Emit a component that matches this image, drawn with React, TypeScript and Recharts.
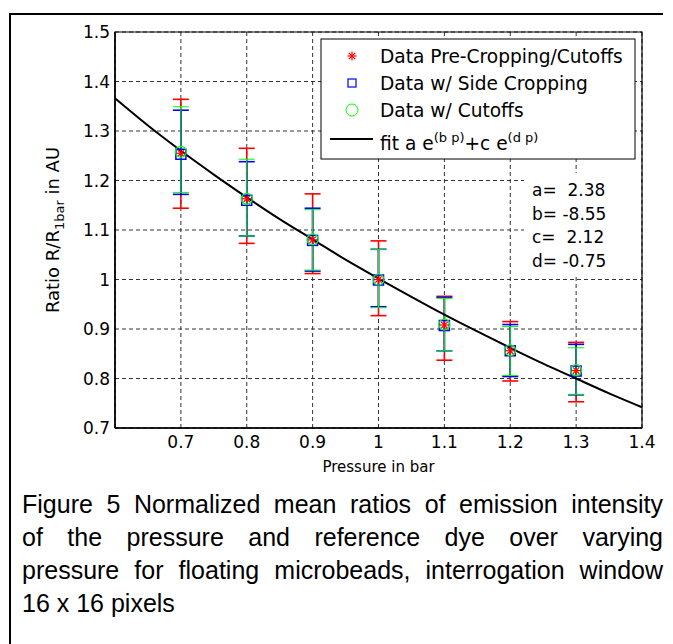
import React from "react";
import {
  ComposedChart,
  Scatter,
  Line,
  XAxis,
  YAxis,
  CartesianGrid,
  ErrorBar,
  ReferenceArea,
  Label,
} from "recharts";

// pressure in bar
const pressures = [0.7, 0.8, 0.9, 1.0, 1.1, 1.2, 1.3];

// Data Pre-Cropping/Cutoffs (mean, lower and upper bar end)
const preMean = [1.255, 1.163, 1.08, 1.0, 0.908, 0.856, 0.816];
const preLow = [1.144, 1.073, 1.012, 0.927, 0.837, 0.795, 0.753];
const preHigh = [1.364, 1.265, 1.173, 1.078, 0.966, 0.915, 0.873];

// Data w/ Side Cropping
const sideMean = [1.253, 1.16, 1.079, 0.999, 0.907, 0.856, 0.815];
const sideLow = [1.172, 1.088, 1.017, 0.945, 0.856, 0.804, 0.767];
const sideHigh = [1.342, 1.238, 1.144, 1.061, 0.964, 0.909, 0.869];

// Data w/ Cutoffs
const cutMean = [1.258, 1.163, 1.081, 1.0, 0.909, 0.857, 0.817];
const cutLow = [1.176, 1.088, 1.019, 0.943, 0.856, 0.806, 0.768];
const cutHigh = [1.349, 1.243, 1.141, 1.061, 0.962, 0.905, 0.862];

// fitted curve
const fitP = [0.6, 0.65, 0.7, 0.75, 0.8, 0.85, 0.9, 0.95, 1.0, 1.05, 1.1, 1.15, 1.2, 1.25, 1.3, 1.35, 1.4];
const fitRatio = [1.366, 1.311, 1.26, 1.212, 1.166, 1.122, 1.081, 1.04, 1.002, 0.965, 0.929, 0.895, 0.862, 0.83, 0.8, 0.77, 0.742];

const xTicks = [0.7, 0.8, 0.9, 1.0, 1.1, 1.2, 1.3, 1.4];
const yTicks = [0.7, 0.8, 0.9, 1.0, 1.1, 1.2, 1.3, 1.4, 1.5];

const fitParams = ["a=  2.38", "b= -8.55", "c=  2.12", "d= -0.75"];
const legendNames = ["Data Pre-Cropping/Cutoffs", "Data w/ Side Cropping", "Data w/ Cutoffs"];

const caption = [
  "Figure 5 Normalized mean ratios of emission intensity",
  "of the pressure and reference dye over varying",
  "pressure for floating microbeads, interrogation window",
  "16 x 16 pixels",
];

const FONT = "DejaVu Sans, Arial, sans-serif";

const build = (mean: number[], low: number[], high: number[]) =>
  pressures.map((p, i) => ({
    x: p,
    y: mean[i],
    err: [mean[i] - low[i], high[i] - mean[i]],
  }));

const preData = build(preMean, preLow, preHigh);
const sideData = build(sideMean, sideLow, sideHigh);
const cutData = build(cutMean, cutLow, cutHigh);
const fitData = fitP.map((p, i) => ({ x: p, y: fitRatio[i] }));

const fmt = (v: number) => String(Number(v.toFixed(1)));

const Star = (props: any) => {
  const { cx, cy } = props;
  const r = 4.5;
  const d = 3.2;
  return (
    <g stroke="#ff0000" strokeWidth={1.2}>
      <line x1={cx - r} y1={cy} x2={cx + r} y2={cy} />
      <line x1={cx} y1={cy - r} x2={cx} y2={cy + r} />
      <line x1={cx - d} y1={cy - d} x2={cx + d} y2={cy + d} />
      <line x1={cx - d} y1={cy + d} x2={cx + d} y2={cy - d} />
    </g>
  );
};

const Square = (props: any) => {
  const { cx, cy } = props;
  return <rect x={cx - 5} y={cy - 5} width={10} height={10} fill="none" stroke="#0000ff" strokeWidth={1.5} />;
};

const Circ = (props: any) => {
  const { cx, cy } = props;
  return <circle cx={cx} cy={cy} r={5.5} fill="none" stroke="#00ff00" strokeWidth={1.2} />;
};

const YLabel = (props: any) => {
  const { viewBox } = props;
  const x = viewBox.x + 4;
  const y = viewBox.y + viewBox.height / 2;
  return (
    <text
      x={x}
      y={y}
      transform={`rotate(-90, ${x}, ${y})`}
      textAnchor="middle"
      fontFamily={FONT}
      fontSize={18}
      fill="#000"
    >
      Ratio R/R
      <tspan fontSize={13} dy={5}>1bar</tspan>
      <tspan dy={-5}> in AU</tspan>
    </text>
  );
};

const XLabel = (props: any) => {
  const { viewBox } = props;
  return (
    <text
      x={viewBox.x + viewBox.width / 2}
      y={viewBox.y + 44}
      textAnchor="middle"
      fontFamily={FONT}
      fontSize={15}
      fill="#000"
    >
      Pressure in bar
    </text>
  );
};

const tickStyle = { fill: "#000", fontSize: 17, fontFamily: FONT };

export default function App() {
  return (
    <div style={{ position: "absolute", left: 0, top: 0, width: 673, height: 644, background: "#fff" }}>
      <div
        style={{
          position: "absolute",
          left: 9,
          top: 13,
          width: 654,
          height: 631,
          borderLeft: "2px solid #000",
          borderTop: "2px solid #000",
          boxSizing: "border-box",
        }}
      />
      <div style={{ position: "absolute", left: 0, top: 0 }}>
        <ComposedChart width={673} height={490} margin={{ top: 32, right: 31, bottom: 20, left: 55 }}>
          <CartesianGrid stroke="#333" strokeDasharray="4 3" />
          <XAxis
            dataKey="x"
            type="number"
            domain={[0.6, 1.4]}
            ticks={xTicks}
            tickFormatter={fmt}
            tick={tickStyle}
            tickLine={false}
            tickSize={0}
            tickMargin={8}
            height={42}
            axisLine={{ stroke: "#000", strokeWidth: 1.5 }}
          >
            <Label content={<XLabel />} />
          </XAxis>
          <YAxis
            dataKey="y"
            type="number"
            domain={[0.7, 1.5]}
            ticks={yTicks}
            tickFormatter={fmt}
            tick={tickStyle}
            tickLine={false}
            tickSize={0}
            tickMargin={5}
            width={60}
            axisLine={{ stroke: "#000", strokeWidth: 1.5 }}
          >
            <Label content={<YLabel />} />
          </YAxis>
          <ReferenceArea x1={0.6} x2={1.4} y1={0.7} y2={1.5} fill="none" stroke="#000" strokeWidth={1.2} ifOverflow="visible" />
          <Scatter data={preData} shape={<Star />} isAnimationActive={false}>
            <ErrorBar dataKey="err" direction="y" width={8} stroke="#ff0000" strokeWidth={1.6} />
          </Scatter>
          <Scatter data={sideData} shape={<Square />} isAnimationActive={false}>
            <ErrorBar dataKey="err" direction="y" width={8} stroke="#0000ff" strokeWidth={1.6} />
          </Scatter>
          <Scatter data={cutData} shape={<Circ />} isAnimationActive={false}>
            <ErrorBar dataKey="err" direction="y" width={8} stroke="#00ff00" strokeWidth={1} />
          </Scatter>
          <Line
            data={fitData}
            dataKey="y"
            type="monotone"
            stroke="#000"
            strokeWidth={2}
            dot={false}
            activeDot={false}
            isAnimationActive={false}
          />
        </ComposedChart>
      </div>
      <svg
        width={673}
        height={470}
        style={{ position: "absolute", left: 0, top: 0, pointerEvents: "none" }}
        fontFamily={FONT}
      >
        {/* legend */}
        <rect x={321} y={39} width={314} height={120} fill="#fff" stroke="#000" strokeWidth={1} />
        <Star cx={352} cy={56} />
        <rect x={348} y={79} width={8} height={8} fill="none" stroke="#0000ff" strokeWidth={1.2} />
        <circle cx={352} cy={110} r={6} fill="none" stroke="#00ff00" strokeWidth={1} />
        <line x1={330} y1={139} x2={373} y2={139} stroke="#000" strokeWidth={2} />
        {legendNames.map((n, i) => (
          <text key={n} x={380} y={63 + i * 27} fontSize={18.6} fill="#000">
            {n}
          </text>
        ))}
        <text x={380} y={150} fontSize={18.6} fill="#000">
          fit a e
          <tspan fontSize={13} dy={-8}>(b p)</tspan>
          <tspan dy={8}>+c e</tspan>
          <tspan fontSize={13} dy={-8}>(d p)</tspan>
        </text>
        {/* fit parameters */}
        <rect x={524} y={173} width={117} height={101} fill="#fff" />
        {fitParams.map((t, i) => (
          <text key={t} x={532} y={196 + i * 23.5} fontSize={17} fill="#000" style={{ whiteSpace: "pre" }}>
            {t}
          </text>
        ))}
      </svg>
      <div
        style={{
          position: "absolute",
          left: 22,
          top: 488,
          width: 641,
          fontFamily: "Liberation Sans, Arial, sans-serif",
          fontSize: 25,
          lineHeight: "33px",
          color: "#000",
        }}
      >
        {caption.map((c, i) => (
          <div key={i} style={{ textAlign: "justify", textAlignLast: i < caption.length - 1 ? "justify" : "left", whiteSpace: "nowrap" }}>
            {c}
          </div>
        ))}
      </div>
    </div>
  );
}
